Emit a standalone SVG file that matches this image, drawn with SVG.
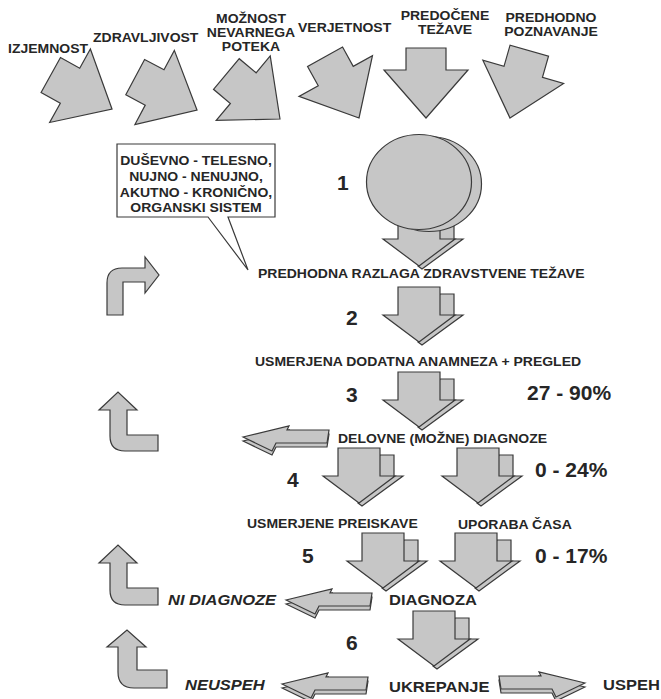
<svg xmlns="http://www.w3.org/2000/svg" xmlns:xlink="http://www.w3.org/1999/xlink" width="661" height="699" viewBox="0 0 661 699">
<style>
.a{fill:#c6c6c6;stroke:#3a3a3a;stroke-width:1.2;stroke-linejoin:miter}
.t{font-family:"Liberation Sans",Arial,sans-serif;font-weight:bold;font-size:14px;fill:#262626}
.m{text-anchor:middle}
.i{font-style:italic}
.n{font-size:21px}
.b{font-size:16.5px}
</style>
<defs>
<polygon id="top" class="a" points="0,0 42,-48 20,-48 20,-70 -20,-70 -20,-48 -42,-48"/>
<g id="down3d">
<polygon class="a" points="42,7 56,7 56,28 65,28 24,58 20,55"/>
<polygon class="a" points="0,0 42,0 42,28 57,28 21,55 -15,28 0,28"/>
</g>
<g id="left3d">
<polygon class="a" points="0,4 46,-7 44,-3 86,-3 84,10 33,10 29,18"/>
<polygon class="a" points="0,0 46,-11 44,-7 86,-7 84,6 33,6 29,14"/>
</g>
</defs>
<rect width="661" height="699" fill="#ffffff"/>

<g id="inputs">
<g id="in-izjemnost"><use href="#top" transform="translate(112,109) rotate(-61)"/><text class="t" transform="scale(1,0.88)" x="8" y="60.23">IZJEMNOST</text></g>
<g id="in-zdravljivost"><use href="#top" transform="translate(197,110) rotate(-62)"/><text class="t" transform="scale(1,0.88)" x="93" y="47.73">ZDRAVLJIVOST</text></g>
<g id="in-moznost"><use href="#top" transform="translate(280,119) rotate(-50)"/><text class="t m" transform="scale(1,0.88)" x="251" y="26.14">MOŽNOST</text><text class="t m" transform="scale(1,0.88)" x="251" y="42.05">NEVARNEGA</text><text class="t m" transform="scale(1,0.88)" x="251" y="57.95">POTEKA</text></g>
<g id="in-verjetnost"><use href="#top" transform="translate(359,118) rotate(-29)"/><text class="t" transform="scale(1,0.88)" x="298" y="36.36">VERJETNOST</text></g>
<g id="in-predocene"><use href="#top" transform="translate(426,118)"/><text class="t m" transform="scale(1,0.88)" x="445" y="22.73">PREDOČENE</text><text class="t m" transform="scale(1,0.88)" x="445" y="38.64">TEŽAVE</text></g>
<g id="in-predhodno"><use href="#top" transform="translate(510,118) rotate(16)"/><text class="t m" transform="scale(1,0.88)" x="551" y="25">PREDHODNO</text><text class="t m" transform="scale(1,0.88)" x="551" y="40.91">POZNAVANJE</text></g>
</g>

<g id="step1">
<use href="#down3d" transform="translate(398,211)"/>
<ellipse class="a" cx="429" cy="184" rx="52.5" ry="47.5"/>
<ellipse class="a" cx="419" cy="182" rx="52.5" ry="47.5"/>
<text class="t n" x="337" y="190">1</text>
</g>

<g id="callout">
<path class="a" style="fill:#ffffff" d="M117,144 H275 V217 H228 L248,270 L208,217 H117 Z"/>
<text class="t m" transform="scale(1,0.85)" x="196" y="194.12">DUŠEVNO - TELESNO,</text>
<text class="t m" transform="scale(1,0.85)" x="196" y="212.94">NUJNO - NENUJNO,</text>
<text class="t m" transform="scale(1,0.85)" x="196" y="231.76">AKUTNO - KRONIČNO,</text>
<text class="t m" transform="scale(1,0.85)" x="196" y="249.41">ORGANSKI SISTEM</text>
</g>

<g id="razlaga"><text class="t" transform="scale(1,0.85)" x="258" y="327.06">PREDHODNA RAZLAGA ZDRAVSTVENE TEŽAVE</text></g>
<g id="step2"><use href="#down3d" transform="translate(398,287)"/><text class="t n" x="346" y="325">2</text></g>
<g id="anamneza"><text class="t" transform="scale(1,0.85)" x="255" y="430.59">USMERJENA DODATNA ANAMNEZA + PREGLED</text></g>
<g id="step3"><use href="#down3d" transform="translate(398,372)"/><text class="t n" x="346" y="402">3</text><text class="t n" x="527" y="400">27 - 90%</text></g>
<g id="delovne"><text class="t" transform="scale(1,0.85)" x="338" y="521.18">DELOVNE (MOŽNE) DIAGNOZE</text></g>
<g id="step4"><use href="#down3d" transform="translate(338,448)"/><use href="#down3d" transform="translate(457,448)"/><text class="t n" x="287" y="487">4</text><text class="t n" x="535" y="477">0 - 24%</text></g>
<g id="preiskave"><text class="t" transform="scale(1,0.85)" x="247" y="621.18">USMERJENE PREISKAVE</text></g>
<g id="cas"><text class="t" transform="scale(1,0.85)" x="458" y="622.35">UPORABA ČASA</text></g>
<g id="step5"><use href="#down3d" transform="translate(362,533)"/><use href="#down3d" transform="translate(455,533)"/><text class="t n" x="302" y="563">5</text><text class="t n" x="535" y="563">0 - 17%</text></g>
<g id="diagnoza"><text class="t b" transform="scale(1,0.9)" x="389" y="672.22">DIAGNOZA</text></g>
<g id="nidiagnoze"><text class="t b i" transform="scale(1,0.9)" x="168" y="672.22">NI DIAGNOZE</text></g>
<g id="step6"><use href="#down3d" transform="translate(413,611)"/><text class="t n" x="346" y="650">6</text></g>
<g id="ukrepanje"><text class="t b" transform="scale(1,0.9)" x="389" y="768.89">UKREPANJE</text></g>
<g id="neuspeh"><text class="t b i" transform="scale(1,0.9)" x="185" y="766.67">NEUSPEH</text></g>
<g id="uspeh"><text class="t b" transform="scale(1,0.9)" x="603" y="766.67">USPEH</text></g>

<g id="connectors">
<use href="#left3d" transform="translate(243,437)"/>
<use href="#left3d" transform="translate(286,600)"/>
<use href="#left3d" transform="translate(282,684)"/>
<use href="#left3d" transform="translate(585,683) scale(-1,1)"/>
<path class="a" d="M107,315 L107,283 Q107,268 122,268 L145,268 L145,257 L159,275 L145,293 L145,282 L123,282 L123,315 Z"/>
<path class="a" d="M110,410 L99,410 L118,392 L137,410 L127,410 L127,435 L158,435 L158,451 L125,451 Q110,451 110,436 Z"/>
<path class="a" d="M110,563 L99,563 L118,545 L137,563 L127,563 L127,588 L158,588 L158,605 L125,605 Q110,605 110,590 Z"/>
<path class="a" d="M118,647 L107,647 L127,630 L146,647 L137,647 L137,670 L167,670 L167,688 L134,688 Q118,688 118,672 Z"/>
</g>
</svg>
